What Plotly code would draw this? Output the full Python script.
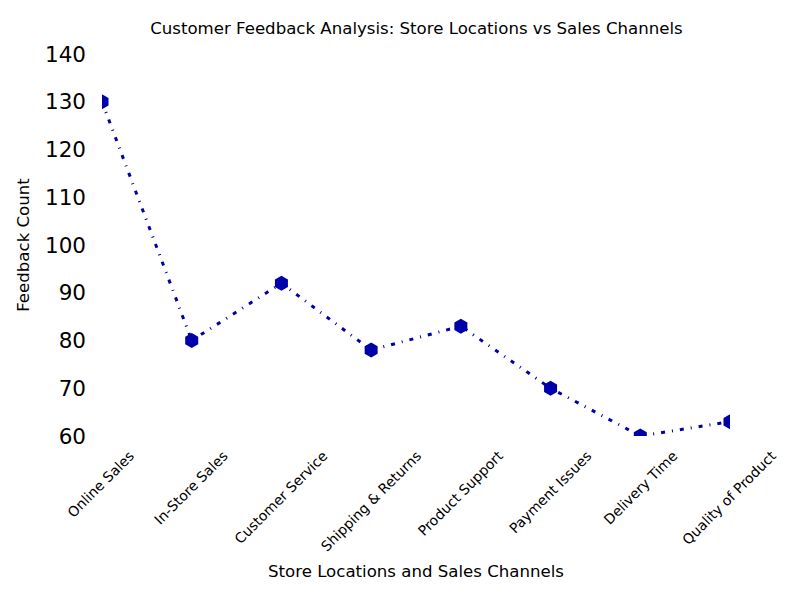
import plotly.graph_objects as go

categories = ["Online Sales", "In-Store Sales", "Customer Service", "Shipping & Returns",
              "Product Support", "Payment Issues", "Delivery Time", "Quality of Product"]
feedback_counts = [130, 80, 92, 78, 83, 70, 60, 63]
y_ticks = [60, 70, 80, 90, 100, 110, 120, 130, 140]

# styling: per-label shift so that each rotated label is centred on its tick
label_shifts = [28, 32, 42, 46, 38, 37, 33, 42]

color = "#0000AA"
font = "DejaVu Sans"

fig = go.Figure(go.Scatter(
    x=categories, y=feedback_counts, mode="lines+markers",
    line=dict(color=color, width=3, dash="4px,7px,1px,7px"),
    marker=dict(symbol="hexagon", size=15, color=color),
    cliponaxis=True,
))

fig.update_layout(
    width=800, height=600,
    paper_bgcolor="white", plot_bgcolor="white",
    margin=dict(l=94, r=78, t=46, b=172, autoexpand=False),
    showlegend=False,
    font=dict(family=font, color="black"),
    title=dict(text="Customer Feedback Analysis: Store Locations vs Sales Channels",
               x=0.5106, xanchor="center", y=0.9667, yanchor="middle",
               font=dict(size=16.6, family=font, color="black")),
)
fig.update_xaxes(
    range=[0, 7], showgrid=False, zeroline=False, showline=False, automargin=False,
    showticklabels=False,
    title=dict(text="Store Locations and Sales Channels", font=dict(size=16.6, family=font), standoff=129),
)
for i, (lab, sh) in enumerate(zip(categories, label_shifts)):
    ax = f"x{i + 2}"
    # empty helper trace so the overlay axis carrying this tick label is drawn
    fig.add_trace(go.Scatter(x=[i], y=[None], xaxis=ax, yaxis="y", mode="markers",
                             marker=dict(opacity=0), hoverinfo="skip", showlegend=False))
    fig.layout[f"xaxis{i + 2}"] = dict(
        overlaying="x", anchor="y", type="linear", range=[0, 7],
        tickmode="array", tickvals=[i], ticktext=[lab],
        showgrid=False, zeroline=False, showline=False, automargin=False, ticks="",
        tickangle=-45, tickfont=dict(size=14, family=font),
        ticklabelshift=sh, ticklabelstandoff=8,
    )
fig.update_yaxes(
    range=[60, 140], tickvals=y_ticks, showgrid=False, zeroline=False, showline=False, automargin=False,
    tickfont=dict(size=21.5, family=font), ticklabelstandoff=15,
    title=dict(text="Feedback Count", font=dict(size=16.6, family=font), standoff=11),
)

fig.write_html("out.html")
